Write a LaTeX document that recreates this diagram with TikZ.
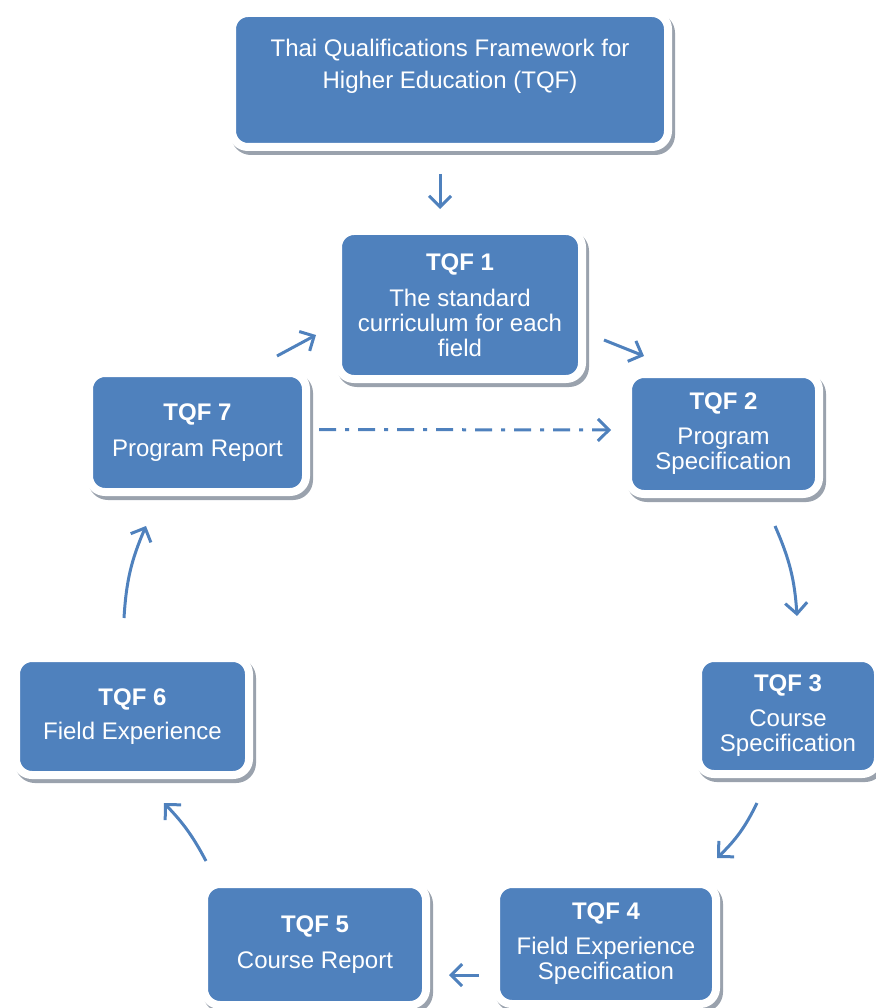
\documentclass[tikz,border=0pt]{standalone}
\usepackage{fontspec}
\setmainfont{Liberation Sans}
\usetikzlibrary{arrows.meta,positioning,calc}
\definecolor{tqfblue}{HTML}{4F81BD}
\definecolor{tqfshade}{HTML}{9AA2AD}

\begin{document}
\begin{tikzpicture}[x=1pt,y=1pt,
  tqf/.style={draw=white,line width=8pt,fill=tqfblue,rounded corners=16pt,
              text=white,align=center,inner sep=0pt,
              font=\fontsize{24}{25}\selectfont,
              preaction={draw=tqfshade,fill=tqfshade,line width=8pt,
                         transform canvas={xshift=3pt,yshift=-4pt}}},
  link/.style={-{Straight Barb[length=11pt,width=22pt]},line width=3pt,
               draw=tqfblue},
  back/.style={link,dash pattern=on 17pt off 9pt on 4pt off 9pt}]

  \useasboundingbox (0,0) rectangle (875,-1008);

  % framework and standard
  \node[tqf,minimum width=436pt,minimum height=134pt,
        font=\fontsize{24}{32}\selectfont] (top) at (450,-80)
    {Thai Qualifications Framework for\\Higher Education (TQF)\\\mbox{}};
  \node[tqf,minimum width=244pt,minimum height=148pt] (tq1) at (460,-305)
    {\textbf{TQF 1}\\[11pt]The standard\\curriculum for each\\field};

  % cycle
  \node[tqf,minimum width=191pt,minimum height=120pt] (tq2) at (723.5,-434)
    {\textbf{TQF 2}\\[10pt]Program\\Specification};
  \node[tqf,minimum width=180pt,minimum height=116pt] (tq3) at (788,-716)
    {\textbf{TQF 3}\\[10pt]Course\\Specification};
  \node[tqf,minimum width=220pt,minimum height=120pt] (tq4) at (606,-944)
    {\textbf{TQF 4}\\[10pt]Field Experience\\Specification};
  \node[tqf,minimum width=222pt,minimum height=121pt] (tq5) at (315,-944.5)
    {\textbf{TQF 5}\\[11pt]Course Report};
  \node[tqf,minimum width=233pt,minimum height=117pt] (tq6) at (132.5,-716.5)
    {\textbf{TQF 6}\\[9pt]Field Experience};
  \node[tqf,minimum width=217pt,minimum height=119pt] (tq7) at (197.5,-432.5)
    {\textbf{TQF 7}\\[11pt]Program Report};

  \draw[link] ([shift={(-10,-23)}]top.south) -- ([shift={(-20,18)}]tq1.north);
  \draw[link] ([shift={(18,43)}]tq1.south east) -- ([shift={(20,14)}]tq2.north west);
  \draw[link] ([shift={(-33,13)}]tq7.north east) -- ([shift={(-18,-30)}]tq1.west);
  \draw[back] ([shift={(9,3)}]tq7.east) -- ([shift={(-13,4)}]tq2.west);
  \draw[link] ([shift={(51.5,-28)}]tq2.south) to[bend left=10]
    ([shift={(9,38)}]tq3.north);
  \draw[link] ([shift={(-31,-25)}]tq3.south) to[bend left=10]
    ([shift={(-3,22)}]tq4.north east);
  \draw[link] ([shift={(-13,-31)}]tq4.west) -- ([shift={(19,-30.5)}]tq5.east);
  \draw[link] ([shift={(6,19)}]tq5.north west) to[bend right=8]
    ([shift={(31.5,-24)}]tq6.south);
  \draw[link] ([shift={(-8.5,36)}]tq6.north) to[bend left=10]
    ([shift={(-51.5,-30)}]tq7.south);
\end{tikzpicture}
\end{document}
